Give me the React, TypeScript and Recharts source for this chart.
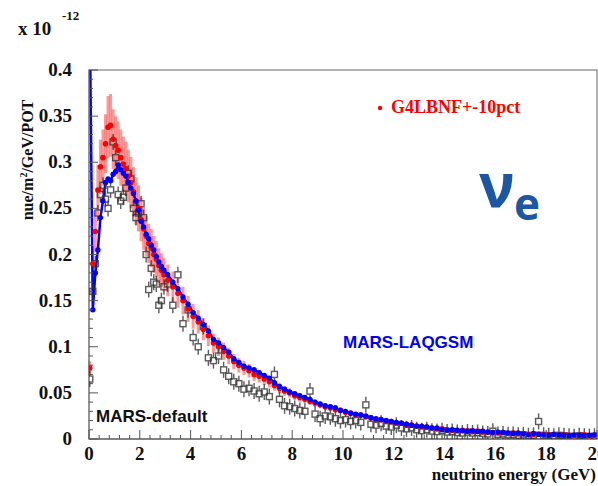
import React from 'react';
import { ComposedChart, XAxis, YAxis, Line, Scatter, ErrorBar, ReferenceArea } from 'recharts';

// bin centres in GeV: 0.1 GeV bins up to 3 GeV, 0.2 GeV bins above
const energy = [
  0.03, 0.15, 0.25, 0.35, 0.45, 0.55, 0.65, 0.75, 0.85, 0.95,
  1.05, 1.15, 1.25, 1.35, 1.45, 1.55, 1.65, 1.75, 1.85, 1.95,
  2.05, 2.15, 2.25, 2.35, 2.45, 2.55, 2.65, 2.75, 2.85, 2.95,
  3.1, 3.3, 3.5, 3.7, 3.9, 4.1, 4.3, 4.5, 4.7, 4.9,
  5.1, 5.3, 5.5, 5.7, 5.9, 6.1, 6.3, 6.5, 6.7, 6.9,
  7.1, 7.3, 7.5, 7.7, 7.9, 8.1, 8.3, 8.5, 8.7, 8.9,
  9.1, 9.3, 9.5, 9.7, 9.9, 10.1, 10.3, 10.5, 10.7, 10.9,
  11.1, 11.3, 11.5, 11.7, 11.9, 12.1, 12.3, 12.5, 12.7, 12.9,
  13.1, 13.3, 13.5, 13.7, 13.9, 14.1, 14.3, 14.5, 14.7, 14.9,
  15.1, 15.3, 15.5, 15.7, 15.9, 16.1, 16.3, 16.5, 16.7, 16.9,
  17.1, 17.3, 17.5, 17.7, 17.9, 18.1, 18.3, 18.5, 18.7, 18.9,
  19.1, 19.3, 19.5, 19.7, 19.9,
];

// G4LBNF flux (x 1e-12 nue/m2/GeV/POT), drawn with a +-10% band
const g4lbnf = [
  0.077, 0.19, 0.225, 0.27, 0.295, 0.305, 0.32, 0.338, 0.34, 0.325,
  0.318, 0.313, 0.305, 0.298, 0.293, 0.285, 0.278, 0.268, 0.258, 0.25,
  0.238, 0.228, 0.22, 0.212, 0.207, 0.2, 0.195, 0.188, 0.183, 0.178,
  0.172, 0.165, 0.158, 0.15, 0.141, 0.133, 0.127, 0.119, 0.112, 0.104,
  0.1, 0.095, 0.09, 0.084, 0.08, 0.077, 0.074, 0.07, 0.068, 0.065,
  0.062, 0.058, 0.055, 0.052, 0.05, 0.047, 0.045, 0.043, 0.041, 0.039,
  0.037, 0.035, 0.034, 0.032, 0.031, 0.029, 0.028, 0.026, 0.026, 0.024,
  0.023, 0.021, 0.021, 0.019, 0.019, 0.017, 0.017, 0.015, 0.015, 0.014,
  0.013, 0.013, 0.012, 0.011, 0.011, 0.01, 0.0095, 0.009, 0.0095, 0.0085,
  0.008, 0.0085, 0.0075, 0.0075, 0.007, 0.0065, 0.007, 0.006, 0.0065, 0.0055,
  0.006, 0.005, 0.005, 0.0055, 0.0045, 0.0045, 0.005, 0.004, 0.0045, 0.004,
  0.0035, 0.004, 0.0045, 0.0035, 0.004,
];

const marsDefault = [
  0.065, 0.16, 0.19, 0.245, 0.265, 0.275, 0.26, 0.25, 0.27, 0.322,
  0.305, 0.265, 0.258, 0.262, 0.272, 0.288, 0.282, 0.25, 0.24, 0.245,
  0.255, 0.24, 0.2, 0.162, 0.185, 0.17, 0.168, 0.145, 0.15, 0.165,
  0.168, 0.145, 0.178, 0.125, 0.14, 0.11, 0.1, 0.122, 0.088, 0.085,
  0.09, 0.075, 0.068, 0.062, 0.06, 0.054, 0.055, 0.052, 0.049, 0.051,
  0.046, 0.07, 0.043, 0.036, 0.035, 0.033, 0.031, 0.03, 0.052, 0.027,
  0.022, 0.025, 0.024, 0.022, 0.02, 0.021, 0.019, 0.02, 0.018, 0.037,
  0.016, 0.015, 0.017, 0.014, 0.013, 0.015, 0.012, 0.011, 0.012, 0.01,
  0.009, 0.01, 0.0085, 0.008, 0.009, 0.0075, 0.008, 0.007, 0.0065, 0.0075,
  0.0065, 0.007, 0.006, 0.0055, 0.0085, 0.005, 0.0055, 0.0045, 0.005, 0.004,
  0.0045, 0.0035, 0.004, 0.019, 0.004, 0.0035, 0.003, 0.004, 0.0035, 0.003,
  0.0025, 0.0035, 0.003, 0.0025, 0.003,
];

const marsLaqgsm = [
  0.46, 0.14, 0.18, 0.205, 0.24, 0.258, 0.278, 0.282, 0.28, 0.287,
  0.29, 0.297, 0.292, 0.288, 0.285, 0.278, 0.272, 0.266, 0.258, 0.248,
  0.236, 0.23, 0.222, 0.217, 0.21, 0.205, 0.198, 0.192, 0.187, 0.183,
  0.178, 0.17, 0.163, 0.154, 0.146, 0.137, 0.131, 0.124, 0.117, 0.108,
  0.104, 0.099, 0.094, 0.087, 0.083, 0.079, 0.077, 0.075, 0.072, 0.069,
  0.066, 0.061, 0.057, 0.054, 0.051, 0.049, 0.047, 0.045, 0.043, 0.04,
  0.038, 0.036, 0.035, 0.034, 0.031, 0.03, 0.028, 0.027, 0.026, 0.025,
  0.023, 0.022, 0.021, 0.02, 0.019, 0.018, 0.017, 0.016, 0.015, 0.014,
  0.014, 0.013, 0.012, 0.012, 0.01, 0.0095, 0.01, 0.0095, 0.009, 0.0085,
  0.009, 0.008, 0.0085, 0.0075, 0.007, 0.0075, 0.007, 0.0065, 0.006, 0.0065,
  0.0055, 0.0045, 0.006, 0.005, 0.0045, 0.004, 0.005, 0.0045, 0.004, 0.0035,
  0.0045, 0.004, 0.0035, 0.004, 0.0045,
];

const xMajor = [0, 2, 4, 6, 8, 10, 12, 14, 16, 18, 20];
const yMajor = [0, 0.05, 0.1, 0.15, 0.2, 0.25, 0.3, 0.35, 0.4];
const yMajorLabels = ['0', '0.05', '0.1', '0.15', '0.2', '0.25', '0.3', '0.35', '0.4'];

// ROOT-style axes: 5 secondary divisions between labelled ticks
const subdivide = (major: number[], n: number) => {
  const out: number[] = [];
  for (let i = 0; i < major.length - 1; i++) {
    const step = (major[i + 1] - major[i]) / n;
    for (let k = 0; k < n; k++) out.push(+(major[i] + k * step).toFixed(4));
  }
  out.push(major[major.length - 1]);
  return out;
};
const xTicks = subdivide(xMajor, 5);
const yTicks = subdivide(yMajor, 5);

const data = energy.map((e, i) => ({
  e,
  red: g4lbnf[i],
  redErr: g4lbnf[i] * 0.1,
  black: marsDefault[i],
  blue: marsLaqgsm[i],
}));

const SERIF = '"Liberation Serif", "Times New Roman", serif';
const SANS = '"Liberation Sans", Arial, sans-serif';
const near = (v: number, arr: number[]) => arr.findIndex((m) => Math.abs(m - v) < 1e-6);

const XTick = (props: any) => {
  const { x, y, payload } = props;
  const idx = near(payload.value, xMajor);
  return (
    <g>
      <line x1={x} x2={x} y1={y} y2={y - (idx >= 0 ? 9 : 4)} stroke="#555" strokeWidth={1} />
      {idx >= 0 && (
        <text x={x} y={y + 21} textAnchor="middle" fontFamily={SERIF} fontWeight="bold" fontSize={19} fill="#111">
          {xMajor[idx]}
        </text>
      )}
    </g>
  );
};

const YTick = (props: any) => {
  const { x, y, payload } = props;
  const idx = near(payload.value, yMajor);
  return (
    <g>
      <line x1={x} x2={x + (idx >= 0 ? 9 : 4)} y1={y} y2={y} stroke="#555" strokeWidth={1} />
      {idx >= 0 && (
        <text x={x - 17} y={y + 6} textAnchor="end" fontFamily={SERIF} fontWeight="bold" fontSize={19} fill="#111">
          {yMajorLabels[idx]}
        </text>
      )}
    </g>
  );
};

const RedDot = (p: any) => <circle cx={p.cx} cy={p.cy} r={2.8} fill="#ff0000" />;

// open square marker with short stat. error ticks above and below
const OpenSquare = (p: any) => (
  <g stroke="#333" strokeWidth={1.4} fill="none" opacity={0.8}>
    <line x1={p.cx} x2={p.cx} y1={p.cy - 8} y2={p.cy - 3} />
    <line x1={p.cx} x2={p.cx} y1={p.cy + 3} y2={p.cy + 8} />
    <rect x={p.cx - 3} y={p.cy - 3} width={6} height={6} />
  </g>
);

export default function App() {
  return (
    <div style={{ position: 'absolute', left: 0, top: 0, width: 598, height: 486, background: '#fff' }}>
      <ComposedChart width={598} height={486} data={data} margin={{ top: 70, right: 1, bottom: 17, left: 29 }}>
        <XAxis
          dataKey="e"
          type="number"
          domain={[0, 20]}
          ticks={xTicks}
          interval={0}
          tickSize={0}
          tickMargin={0}
          tick={XTick}
          axisLine={{ stroke: '#555' }}
          height={30}
          allowDataOverflow
        />
        <YAxis
          type="number"
          domain={[0, 0.4]}
          ticks={yTicks}
          interval={0}
          tickSize={0}
          tickMargin={0}
          tick={YTick}
          axisLine={{ stroke: '#777' }}
          width={60}
          allowDataOverflow
        />
        <ReferenceArea x1={0} x2={20} y1={0} y2={0.4} fill="none" stroke="#999" strokeWidth={1.5} ifOverflow="visible" />
        <Scatter dataKey="black" shape={OpenSquare} isAnimationActive={false} />
        <Scatter dataKey="red" shape={RedDot} isAnimationActive={false}>
          <ErrorBar dataKey="redErr" direction="y" width={0} stroke="rgba(255,0,0,0.4)" strokeWidth={3} />
        </Scatter>
        <Line
          dataKey="blue"
          type="linear"
          stroke="#0000ff"
          strokeWidth={2.5}
          dot={{ r: 2.7, fill: '#0000ff', stroke: 'none' }}
          isAnimationActive={false}
        />
      </ComposedChart>
      <svg width={598} height={486} style={{ position: 'absolute', left: 0, top: 0, pointerEvents: 'none' }}>
        <text x={18} y={35} fontFamily={SERIF} fontWeight="bold" fontSize={19} fill="#111">x 10</text>
        <text x={62} y={20} fontFamily={SERIF} fontWeight="bold" fontSize={13} fill="#111">-12</text>
        <text
          transform="translate(33,160) rotate(-90)"
          textAnchor="middle"
          fontFamily={SERIF}
          fontWeight="bold"
          fontSize={16}
          fill="#111"
        >
          nue/m<tspan dy={-6} fontSize={10}>2</tspan>
          <tspan dy={6}>/GeV/POT</tspan>
        </text>
        <text x={596} y={480} textAnchor="end" fontFamily={SERIF} fontWeight="bold" fontSize={17} fill="#111">
          neutrino energy (GeV)
        </text>
        <circle cx={380} cy={108} r={2.2} fill="#ff0000" />
        <text x={391} y={113} fontFamily={SERIF} fontWeight="bold" fontSize={18} fill="#ff0000">G4LBNF+-10pct</text>
        <text x={479} y={207} fontFamily='"Open Sans", sans-serif' fontWeight="bold" fontSize={60} fill="#1d57a3">ν</text>
        <text x={514} y={220} fontFamily='"Open Sans", sans-serif' fontWeight="bold" fontSize={44} fill="#1d57a3">e</text>
        <text x={343} y={348} fontFamily={SANS} fontWeight="bold" fontSize={17} fill="#0000ff">MARS-LAQGSM</text>
        <text x={96} y={422} fontFamily={SANS} fontWeight="bold" fontSize={17} fill="#111">MARS-default</text>
      </svg>
    </div>
  );
}
